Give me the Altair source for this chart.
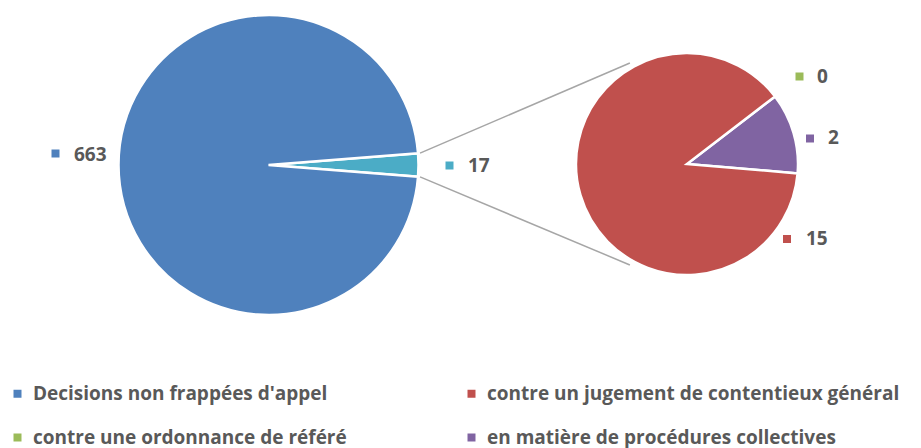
import math
import altair as alt
import pandas as pd

# ---------------- data ----------------
main_categories = ["Autres", "Decisions non frappées d'appel"]
main_values = [17, 663]

sec_categories = [
    "contre une ordonnance de référé",
    "en matière de procédures collectives",
    "contre un jugement de contentieux général",
]
sec_values = [0, 2, 15]

# legend fills column by column
legend_order = [
    "Decisions non frappées d'appel",
    "contre une ordonnance de référé",
    "contre un jugement de contentieux général",
    "en matière de procédures collectives",
]
color_domain = [
    "Decisions non frappées d'appel",
    "contre un jugement de contentieux général",
    "contre une ordonnance de référé",
    "en matière de procédures collectives",
    "Autres",
]
color_range = ["#4F81BD", "#C0504D", "#9BBB59", "#8064A2", "#4BACC6"]

# ---------------- layout ----------------
W, H = 905, 440
MCX, MCY, MR = 260.5, 157, 150
SCX, SCY, SR = 679, 156, 111
FONT = "Open Sans"
TXT = "#595959"
FS = 19

total_main = sum(main_values)
half = main_values[0] / total_main * 180.0
main_start = 90.0 - half           # "Autres" slice centred at 3 o'clock
sec_start = 52.5

main_df = pd.DataFrame({"cat": main_categories, "value": main_values,
                        "ord": list(range(len(main_values)))})
sec_df = pd.DataFrame({"cat": sec_categories, "value": sec_values,
                       "ord": list(range(len(sec_values)))})


def theta_scale(start_deg):
    s = math.radians(start_deg)
    return alt.Scale(range=[s, s + 2 * math.pi])


color = alt.Color(
    "cat:N",
    scale=alt.Scale(domain=color_domain, range=color_range),
    legend=alt.Legend(
        title=None, orient="none", legendX=0, legendY=376,
        columns=2, columnPadding=115, rowPadding=24,
        symbolType="square", symbolSize=64, symbolStrokeWidth=0,
        symbolOpacity=1, labelFont=FONT, labelFontSize=FS,
        labelFontWeight="bold", labelColor=TXT, labelOffset=6,
        labelLimit=0, padding=0, values=legend_order,
    ),
)

main_pie = alt.Chart(main_df).mark_arc(stroke="white", strokeWidth=2.5).encode(
    theta=alt.Theta("value:Q", stack=True, scale=theta_scale(main_start)),
    order=alt.Order("ord:Q"),
    color=color,
    x=alt.value(MCX), y=alt.value(MCY),
    radius=alt.value(MR),
)

sec_pie = alt.Chart(sec_df).mark_arc(stroke="white", strokeWidth=2.5).encode(
    theta=alt.Theta("value:Q", stack=True, scale=theta_scale(sec_start)),
    order=alt.Order("ord:Q"),
    color=color,
    x=alt.value(SCX), y=alt.value(SCY),
    radius=alt.value(SR),
)

# connector lines from the "Autres" slice edges to the secondary pie
a_top, a_bot = math.radians(main_start), math.radians(main_start + 2 * half)
e_top, e_bot = math.radians(330.5), math.radians(209.5)
R1, R2 = MR + 2, SR + 5
conn_df = pd.DataFrame({
    "x": [MCX + R1 * math.sin(a_top), MCX + R1 * math.sin(a_bot)],
    "y": [MCY - R1 * math.cos(a_top), MCY - R1 * math.cos(a_bot)],
    "x2": [SCX + R2 * math.sin(e_top), SCX + R2 * math.sin(e_bot)],
    "y2": [SCY - R2 * math.cos(e_top), SCY - R2 * math.cos(e_bot)],
})
connectors = alt.Chart(conn_df).mark_rule(color="#A6A6A6", strokeWidth=1.5).encode(
    x=alt.X("x:Q", scale=None), y=alt.Y("y:Q", scale=None),
    x2="x2:Q", y2="y2:Q",
)

# data labels (text + colour key square)
lab_df = pd.DataFrame({
    "cat": ["Decisions non frappées d'appel", "Autres",
            "contre une ordonnance de référé",
            "en matière de procédures collectives",
            "contre un jugement de contentieux général"],
    "txt": [str(main_values[1]), str(main_values[0]),
            str(sec_values[0]), str(sec_values[1]), str(sec_values[2])],
    "sx": [47.5, 441.5, 791.5, 802, 779],
    "sy": [145.5, 157.5, 68.5, 130.5, 231],
    "tx": [66, 460, 809, 820, 798],
    "ty": [147, 158, 69, 130, 231],
})
lab_sq = alt.Chart(lab_df).mark_square(size=64, opacity=1).encode(
    x=alt.X("sx:Q", scale=None), y=alt.Y("sy:Q", scale=None),
    color=alt.Color("cat:N", scale=alt.Scale(domain=color_domain, range=color_range), legend=None),
)
lab_txt = alt.Chart(lab_df).mark_text(
    align="left", baseline="middle", font=FONT, fontSize=FS,
    fontWeight="bold", color=TXT,
).encode(
    x=alt.X("tx:Q", scale=None), y=alt.Y("ty:Q", scale=None), text="txt:N",
)

chart = alt.layer(connectors, main_pie, sec_pie, lab_sq, lab_txt).resolve_scale(
    theta="independent"
).properties(
    width=W, height=H, padding=0, autosize=alt.AutoSizeParams(type="none"),
    background="white",
).configure_view(stroke=None)

chart.save("out.html", embed_options={"renderer": "svg", "actions": False})
